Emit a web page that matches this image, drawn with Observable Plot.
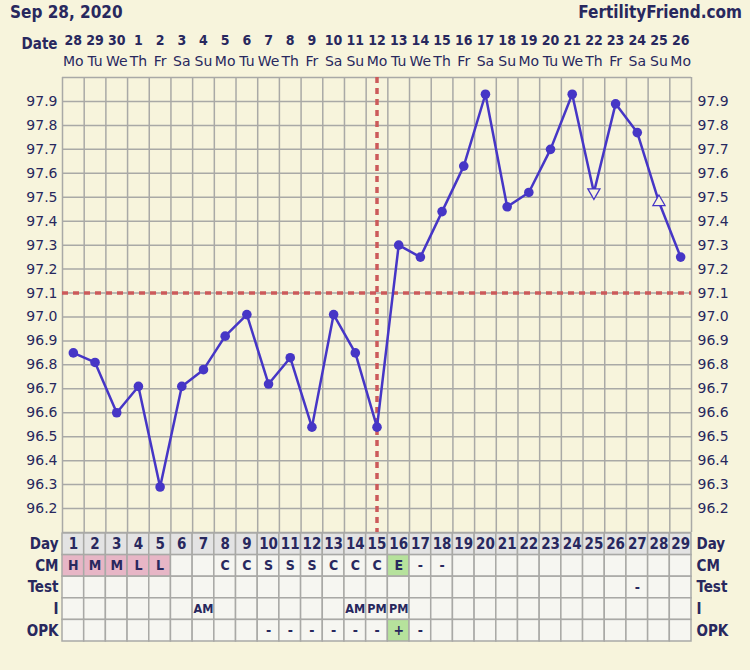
<!DOCTYPE html>
<html>
<head>
<meta charset="utf-8">
<script src="https://cdn.jsdelivr.net/npm/d3@7"></script>
<script src="https://cdn.jsdelivr.net/npm/@observablehq/plot@0.6"></script>
<style>
  body { margin: 0; background: #f7f4dc; width: 750px; height: 670px; overflow: hidden; }
  #head { height: 24px; position: relative; color: #28285e; }
  #head span { position: absolute; top: 2px; font: bold 17px "DejaVu Sans Condensed", "DejaVu Sans", sans-serif; }
  svg { display: block; }
</style>
</head>
<body>
<div id="head"><span style="left:10px">Sep 28, 2020</span><span style="right:8px">FertilityFriend.com</span></div>
<div id="chart"></div>
<script>
// Cycle days and calendar labels
const dayNum = d3.range(1, 30);
const dateLabels = ["28","29","30","1","2","3","4","5","6","7","8","9","10","11","12","13","14","15","16","17","18","19","20","21","22","23","24","25","26"];
const weekdays = ["Mo","Tu","We","Th","Fr","Sa","Su","Mo","Tu","We","Th","Fr","Sa","Su","Mo","Tu","We","Th","Fr","Sa","Su","Mo","Tu","We","Th","Fr","Sa","Su","Mo"];

// Basal body temperatures (°F), one per cycle day
const temps = [96.85, 96.81, 96.60, 96.71, 96.29, 96.71, 96.78, 96.92, 97.01, 96.72,
               96.83, 96.54, 97.01, 96.85, 96.54, 97.30, 97.25, 97.44, 97.63, 97.93,
               97.46, 97.52, 97.70, 97.93, 97.52, 97.89, 97.77, 97.48, 97.25];
// Days with open (questionable) temperature markers
const openDown = [25];
const openUp = [28];

const coverline = 97.1;
const ovulationDay = 15;
const tempTicks = d3.range(962, 980).map(v => v / 10);
const gridLevels = d3.range(961, 981).map(v => v / 10);

// Table rows under the chart
const rowNames = ["Day", "CM", "Test", "I", "OPK"];
const cm =   ["H","M","M","L","L","","","C","C","S","S","S","C","C","C","E","-","-","","","","","","","","","","",""];
const test = ["","","","","","","","","","","","","","","","","","","","","","","","","","","-","",""];
const sex =  ["","","","","","","AM","","","","","","","AM","PM","PM","","","","","","","","","","","","",""];
const opk =  ["","","","","","","","","","-","-","-","-","-","-","+","-","","","","","","","","","","","",""];

const navy = "#28285e";
const gridColor = "#a9a9a6";
const lineBlue = "#4636c6";
const red = "#cc5a5a";
const cream = "#f7f4dc";
const cellBg = "#f6f6f1";
const dayBg = "#e3e3e3";
const pink = "#e7b6c6";
const green = "#b6e29c";
const boldFont = '"DejaVu Sans Condensed", "DejaVu Sans", sans-serif';
const plainFont = '"DejaVu Sans", sans-serif';

const points = dayNum.map((d, i) => ({day: d, temp: temps[i]}));
const isOpen = d => openDown.includes(d.day) || openUp.includes(d.day);

// Down-pointing triangle symbol
const triangleDown = {
  draw(context, size) {
    const y = -Math.sqrt(size / (Math.sqrt(3) * 3));
    context.moveTo(0, -y * 2);
    context.lineTo(-Math.sqrt(3) * y, y);
    context.lineTo(Math.sqrt(3) * y, y);
    context.closePath();
  }
};

const tempPlot = Plot.plot({
  width: 750,
  height: 508,
  marginTop: 53,
  marginBottom: 0,
  marginLeft: 62,
  marginRight: 59,
  style: {background: "transparent", color: navy, fontFamily: plainFont, overflow: "visible"},
  x: {domain: [0.5, 29.5], axis: null},
  y: {domain: [96.1, 98.0], axis: null},
  marks: [
    Plot.gridY(gridLevels, {stroke: gridColor, strokeOpacity: 1, strokeWidth: 1.5}),
    Plot.gridX(d3.range(0, 30).map(i => i + 0.5), {stroke: gridColor, strokeOpacity: 1, strokeWidth: 1.5}),
    Plot.ruleY([coverline], {stroke: red, strokeWidth: 3.5, strokeDasharray: "6,5"}),
    Plot.ruleX([ovulationDay], {stroke: red, strokeWidth: 3.5, strokeDasharray: "6,5"}),
    Plot.line(points, {x: "day", y: "temp", stroke: lineBlue, strokeWidth: 2.5}),
    Plot.dot(points.filter(d => !isOpen(d)), {x: "day", y: "temp", r: 4.8, fill: lineBlue}),
    Plot.dot(points.filter(d => openDown.includes(d.day)), {x: "day", y: "temp", r: 4.5, symbol: triangleDown, fill: cream, stroke: lineBlue, strokeWidth: 1.3}),
    Plot.dot(points.filter(d => openUp.includes(d.day)), {x: "day", y: "temp", r: 4.5, symbol: "triangle", fill: cream, stroke: lineBlue, strokeWidth: 1.3}),
    Plot.axisX(dayNum, {anchor: "top", label: null, tickSize: 0, tickPadding: 33, tickFormat: d => dateLabels[d - 1], fontWeight: "bold", fontSize: 14, fontFamily: boldFont, fill: navy}),
    Plot.axisX(dayNum, {anchor: "top", label: null, tickSize: 0, tickPadding: 12, tickFormat: d => weekdays[d - 1], fontSize: 14, fill: navy}),
    Plot.axisY(tempTicks, {anchor: "left", label: null, tickSize: 0, tickPadding: 5, tickFormat: ".1f", fontSize: 14, fill: navy}),
    Plot.axisY(tempTicks, {anchor: "right", label: null, tickSize: 0, tickPadding: 6, tickFormat: ".1f", fontSize: 14, fill: navy}),
    Plot.text(["Date"], {frameAnchor: "top-left", dx: -5, dy: -29, textAnchor: "end", lineAnchor: "bottom", fontWeight: "bold", fontSize: 15, fontFamily: boldFont, fill: navy})
  ]
});

const rowValues = [dayNum.map(String), cm, test, sex, opk];
const cellFill = (row, i) => {
  if (row === 0) return dayBg;
  if (row === 1 && ["H", "M", "L"].includes(cm[i])) return pink;
  if (row === 1 && cm[i] === "E") return green;
  if (row === 4 && opk[i] === "+") return green;
  return cellBg;
};
const cells = rowNames.flatMap((name, r) => dayNum.map((d, i) => ({
  day: d, row: r, text: rowValues[r][i], fill: cellFill(r, i)
})));
const rowMid = rowNames.map((_, r) => r + 0.5);

const tablePlot = Plot.plot({
  width: 750,
  height: 138,
  marginTop: 1,
  marginBottom: 29,
  marginLeft: 62,
  marginRight: 59,
  style: {background: "transparent", color: navy, fontFamily: boldFont, overflow: "visible"},
  x: {domain: [0.5, 29.5], axis: null},
  y: {domain: [0, 5], reverse: true, axis: null},
  marks: [
    Plot.rect(cells, {x1: d => d.day - 0.5, x2: d => d.day + 0.5, y1: "row", y2: d => d.row + 1, fill: "fill", stroke: gridColor, strokeWidth: 1.5}),
    Plot.text(cells.filter(d => d.row === 0), {x: "day", y: d => d.row + 0.5, text: "text", fontWeight: "bold", fontSize: 15, fill: navy}),
    Plot.text(cells.filter(d => d.row > 0 && d.row !== 3 && d.text), {x: "day", y: d => d.row + 0.5, text: "text", fontWeight: "bold", fontSize: 14, fill: navy}),
    Plot.text(cells.filter(d => d.row === 3 && d.text), {x: "day", y: d => d.row + 0.5, text: "text", fontWeight: "bold", fontSize: 12.5, fill: navy}),
    Plot.axisY(rowMid, {anchor: "left", label: null, tickSize: 0, tickPadding: 4, tickFormat: v => rowNames[Math.floor(v)], fontWeight: "bold", fontSize: 15, fill: navy}),
    Plot.axisY(rowMid, {anchor: "right", label: null, tickSize: 0, tickPadding: 5, tickFormat: v => rowNames[Math.floor(v)], fontWeight: "bold", fontSize: 15, fill: navy})
  ]
});

const chart = document.getElementById("chart");
chart.append(tempPlot, tablePlot);
</script>
</body>
</html>
